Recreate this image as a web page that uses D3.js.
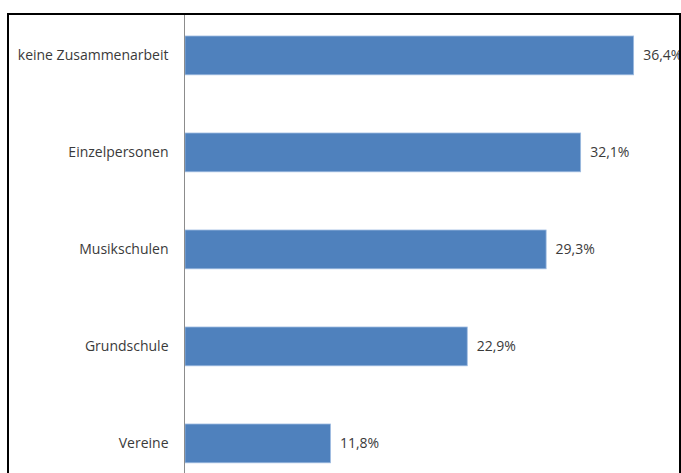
<!DOCTYPE html>
<html>
<head>
<meta charset="utf-8">
<script src="https://cdn.jsdelivr.net/npm/d3@7"></script>
<style>
  html, body { margin: 0; padding: 0; background: #ffffff; }
  svg { display: block; }
</style>
</head>
<body>
<svg id="chart" width="681" height="473"></svg>
<script>
// Kooperationspartner (Anteil in %)
const categories = ["keine Zusammenarbeit", "Einzelpersonen", "Musikschulen", "Grundschule", "Vereine"];
const values = [36.4, 32.1, 29.3, 22.9, 11.8];

const width = 681, height = 473;
const svg = d3.select("#chart");

const fontFamily = "'Open Sans', 'Liberation Sans', sans-serif";
const textColor = "#3a3a3a";

const de = d3.formatLocale({ decimal: ",", thousands: ".", grouping: [3], currency: ["", " €"] });
const fmt = v => de.format(".1f")(v) + "%";

const x = d3.scaleLinear().domain([0, 40]).range([185, 678]);
const y = d3.scaleBand()
  .domain(categories)
  .range([6.9, 491.9])
  .paddingInner(0.6)
  .paddingOuter(0.3);

const data = categories.map((c, i) => ({ cat: c, val: values[i] }));

// bars
svg.append("g")
  .selectAll("rect")
  .data(data)
  .join("rect")
  .attr("x", x(0))
  .attr("y", d => y(d.cat))
  .attr("width", d => x(d.val) - x(0))
  .attr("height", y.bandwidth())
  .attr("fill", "#4f81bd")
  .attr("stroke", "#9dbbe0")
  .attr("stroke-width", 0.8);

// value labels
svg.append("g")
  .selectAll("text")
  .data(data)
  .join("text")
  .attr("x", d => x(d.val) + 9.5)
  .attr("y", d => y(d.cat) + y.bandwidth() / 2)
  .attr("dy", "0.35em")
  .attr("font-family", fontFamily)
  .attr("font-size", 14)
  .attr("fill", textColor)
  .text(d => fmt(d.val));

// category axis
const axis = svg.append("g")
  .attr("transform", "translate(184.5,0)")
  .call(d3.axisLeft(y).tickSize(0).tickPadding(16));
axis.select(".domain").remove();
axis.selectAll("text")
  .attr("font-family", fontFamily)
  .attr("font-size", 14)
  .attr("fill", textColor);
svg.append("line")
  .attr("x1", 184.5).attr("x2", 184.5)
  .attr("y1", 15).attr("y2", height)
  .attr("stroke", "#8c8c8c")
  .attr("stroke-width", 1);

// frame
svg.append("path")
  .attr("d", `M8,${height + 5} L8,14 L680,14 L680,${height + 5}`)
  .attr("fill", "none")
  .attr("stroke", "#000000")
  .attr("stroke-width", 2);
</script>
</body>
</html>
